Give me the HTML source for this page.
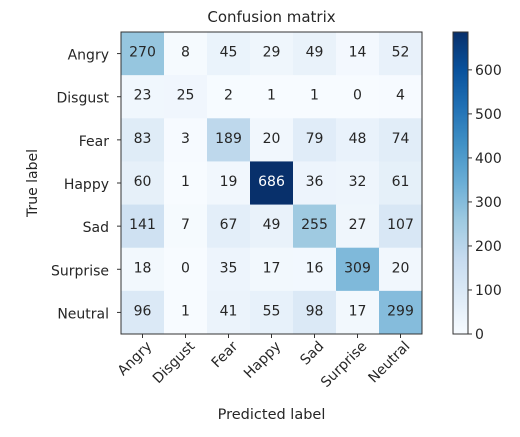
<!DOCTYPE html>
<html><head><meta charset="utf-8"><style>
body{margin:0;background:#fff;}
svg text{font-family:"DejaVu Sans","Liberation Sans",sans-serif;fill:#262626;}
</style></head><body>
<svg id="chart" width="520" height="432"></svg>
<script>
const classes=["Angry","Disgust","Fear","Happy","Sad","Surprise","Neutral"];
const matrix=[
[270,8,45,29,49,14,52],
[23,25,2,1,1,0,4],
[83,3,189,20,79,48,74],
[60,1,19,686,36,32,61],
[141,7,67,49,255,27,107],
[18,0,35,17,16,309,20],
[96,1,41,55,98,17,299]];
const cbTicks=[0,100,200,300,400,500,600];
const NS="http://www.w3.org/2000/svg";
const svg=document.getElementById('chart');
const L=121,T=32,W=301,H=302,n=classes.length,cw=W/n,ch=H/n;
const vmax=Math.max(...matrix.flat());
const stops=["#f7fbff","#deebf7","#c6dbef","#9ecae1","#6baed6","#4292c6","#2171b5","#08519c","#08306b"];
function hex(h){return [1,3,5].map(i=>parseInt(h.substr(i,2),16));}
function cmap(v){let t=Math.max(0,Math.min(1,v/vmax))*(stops.length-1);let i=Math.min(Math.floor(t),stops.length-2),f=t-i;
const a=hex(stops[i]),b=hex(stops[i+1]);return "rgb("+a.map((x,k)=>Math.round(x+(b[k]-x)*f)).join(",")+")";}
function el(tag,attrs,txt){const e=document.createElementNS(NS,tag);for(const k in attrs)e.setAttribute(k,attrs[k]);if(txt!==undefined)e.textContent=txt;svg.appendChild(e);return e;}
const xs=j=>L+(j+0.5)*cw, ys=i=>T+(i+0.5)*ch;
let t=el('text',{x:L+W/2,y:22,'text-anchor':'middle','font-size':'15'},'Confusion matrix');


for(let i=0;i<n;i++)for(let j=0;j<n;j++){
 const v=matrix[i][j];
 const r=el('rect',{x:L+j*cw,y:T+i*ch,width:cw+0.5,height:ch+0.5,fill:cmap(v)});
 
 
 const tx=el('text',{x:xs(j),y:ys(i)+3,'text-anchor':'middle','font-size':'14',style:'fill:'+(v>vmax/2?'#fff':'#262626')},v);
 
 
}
el('rect',{x:L,y:T,width:W,height:H,fill:'none',stroke:'#333','stroke-width':1});
classes.forEach((c,i)=>{
 el('line',{x1:L-4,x2:L,y1:ys(i),y2:ys(i),stroke:'#333'});
 const yl=el('text',{x:L-12,y:ys(i)+6,'text-anchor':'end','font-size':'14'},c);
 
 
 el('line',{x1:xs(i),x2:xs(i),y1:T+H,y2:T+H+4,stroke:'#333'});
 const ax=xs(i)+10, ay=T+H+13;
 const xl=el('text',{x:ax,y:ay,'text-anchor':'end','font-size':'14',transform:'rotate(-45 '+ax+' '+ay+')'},c);
 
 
});
let yt=el('text',{x:0,y:0,'text-anchor':'middle','font-size':'14',transform:'translate(37 '+(T+H/2)+') rotate(-90)'},'True label');


let xt=el('text',{x:L+W/2,y:419,'text-anchor':'middle','font-size':'14.5'},'Predicted label');


const CX=453,CW=15,CT=32,CH=302;
const cy=v=>CT+CH-v/vmax*CH;
for(let k=0;k<CH;k++){const v=vmax*(1-(k+0.5)/CH);el('rect',{x:CX,y:CT+k,width:CW,height:1.2,fill:cmap(v)});}
const cb=el('rect',{x:CX,y:CT,width:CW,height:CH,fill:'none',stroke:'#333'});


cbTicks.forEach(v=>{
 el('line',{x1:CX+CW,x2:CX+CW+4,y1:cy(v),y2:cy(v),stroke:'#333'});
 const l=el('text',{x:CX+CW+7,y:cy(v)+5,'font-size':'14'},v);
 
 
});
</script>
</body></html>
